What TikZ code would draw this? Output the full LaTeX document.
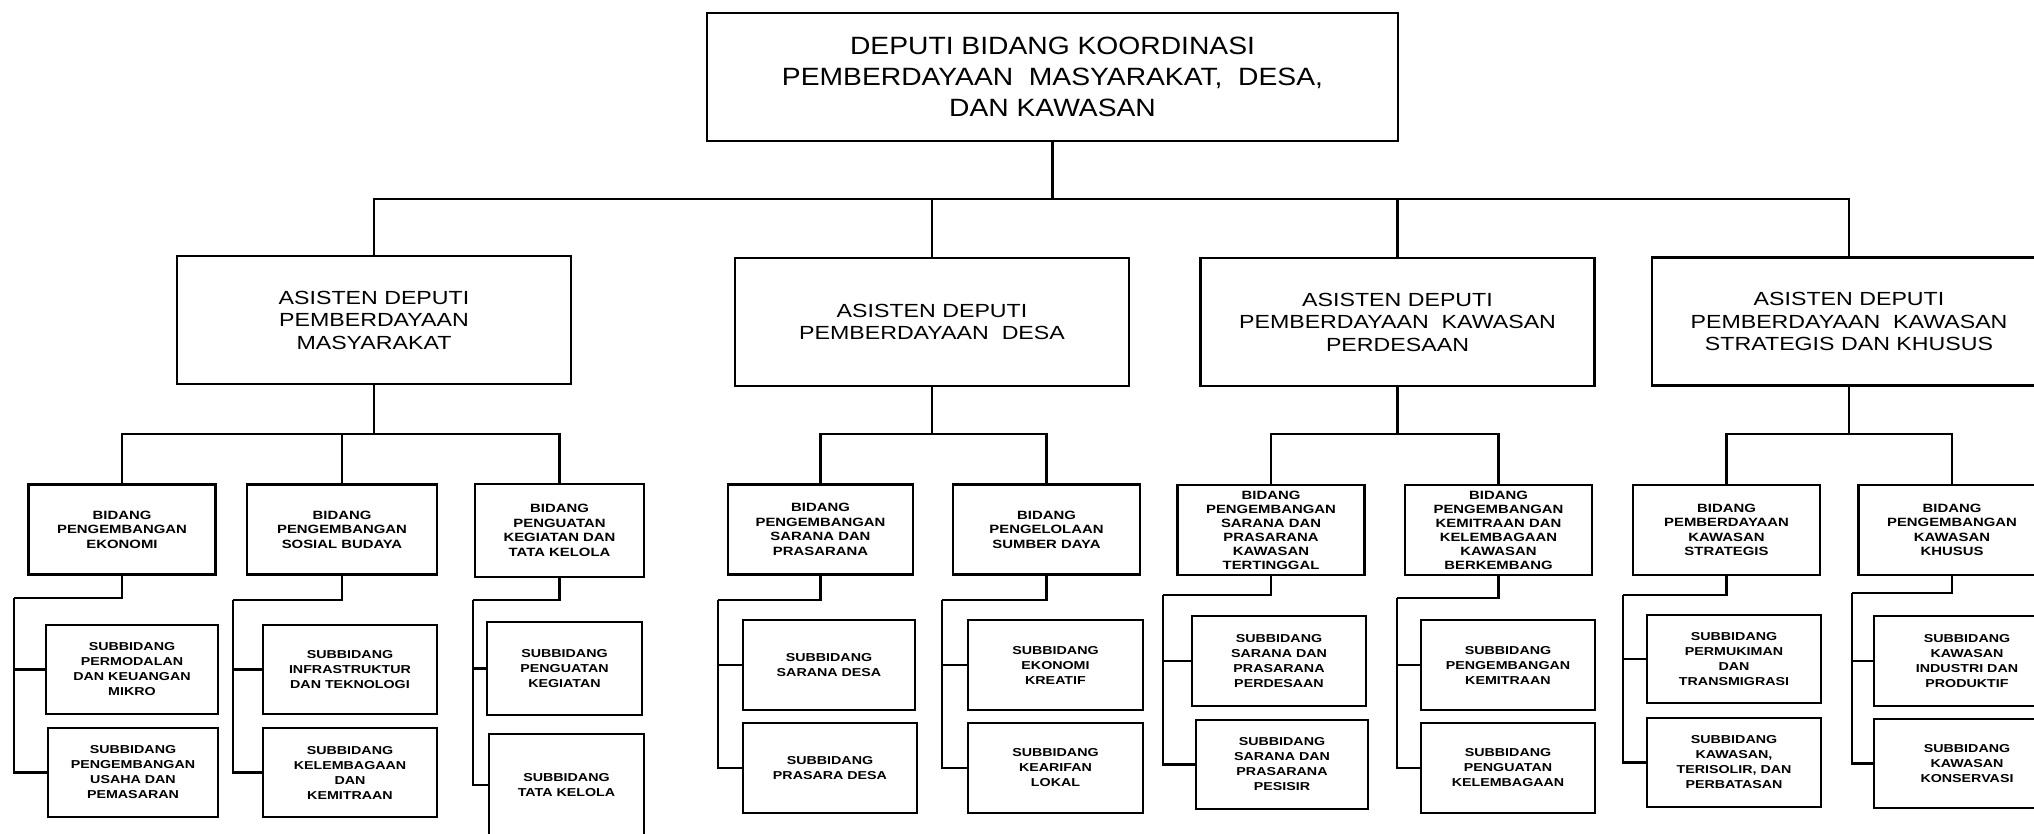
\documentclass[tikz,border=0pt]{standalone}
\usepackage{fontspec}
\setmainfont{Liberation Sans}
\newfontfamily\topfont{Liberation Sans}[FakeStretch=1.13]
\newfontfamily\asfont{Liberation Sans}[FakeStretch=1.22]
\newfontfamily\smallfont{Liberation Sans}[FakeStretch=1.24]
\usepackage{tikz}
\usetikzlibrary{positioning}
\tikzstyle{box} = [draw, line width=2.6pt, inner sep=0pt, align=center]
\tikzstyle{topbox} = [box, minimum width=691pt, minimum height=128pt, font=\topfont\fontsize{25}{31}\selectfont]
\tikzstyle{asbox} = [box, minimum width=394pt, minimum height=128pt, font=\asfont\fontsize{19}{22.5}\selectfont]
\tikzstyle{bidbox} = [box, minimum width=187pt, minimum height=90pt, font=\smallfont\bfseries\fontsize{12}{14.5}\selectfont]
\tikzstyle{subbox} = [box, minimum width=174pt, minimum height=90pt, font=\smallfont\bfseries\fontsize{11.5}{15}\selectfont]
\tikzstyle{line} = [draw, line width=2.6pt]

\begin{document}
\begin{tikzpicture}[x=1pt, y=-1pt]
			\useasboundingbox (0,0) rectangle (2034,834);
			\clip (0,0) rectangle (2034,834);

			\node [topbox] (deputi) at (1052.5,77) {DEPUTI BIDANG KOORDINASI\\PEMBERDAYAAN\ \ MASYARAKAT,\ \ DESA,\\DAN KAWASAN};

			\node [asbox] (as1) at (374,320) {ASISTEN DEPUTI\\PEMBERDAYAAN\\MASYARAKAT};
			\node [asbox] (as2) at (932,322) {ASISTEN DEPUTI\\PEMBERDAYAAN\ \ DESA};
			\node [asbox] (as3) at (1397.5,322) {ASISTEN DEPUTI\\PEMBERDAYAAN\ \ KAWASAN\\PERDESAAN};
			\node [asbox] (as4) at (1849,321.5) {ASISTEN DEPUTI\\PEMBERDAYAAN\ \ KAWASAN\\STRATEGIS DAN KHUSUS};

			\node [bidbox] (bd1) at (122,529.5) {BIDANG\\PENGEMBANGAN\\EKONOMI};
			\node [bidbox, minimum width=190pt] (bd2) at (342,529.5) {BIDANG\\PENGEMBANGAN\\SOSIAL BUDAYA};
			\node [bidbox, minimum width=169pt, minimum height=93pt] (bd3) at (559.5,530.5) {BIDANG\\PENGUATAN\\KEGIATAN DAN\\TATA KELOLA};
			\node [bidbox, minimum width=185pt] (bd4) at (820.5,529.5) {BIDANG\\PENGEMBANGAN\\SARANA DAN\\PRASARANA};
			\node [bidbox] (bd5) at (1046.5,529.5) {BIDANG\\PENGELOLAAN\\SUMBER DAYA};
			\node [bidbox, font=\smallfont\bfseries\fontsize{12}{14}\selectfont] (bd6) at (1271,530) {BIDANG\\PENGEMBANGAN\\SARANA DAN\\PRASARANA\\KAWASAN\\TERTINGGAL};
			\node [bidbox, font=\smallfont\bfseries\fontsize{12}{14}\selectfont] (bd7) at (1498.5,530) {BIDANG\\PENGEMBANGAN\\KEMITRAAN DAN\\KELEMBAGAAN\\KAWASAN\\BERKEMBANG};
			\node [bidbox] (bd8) at (1726.5,530) {BIDANG\\PEMBERDAYAAN\\KAWASAN\\STRATEGIS};
			\node [bidbox] (bd9) at (1952,530) {BIDANG\\PENGEMBANGAN\\KAWASAN\\KHUSUS};

			\node [subbox, minimum width=172pt, minimum height=89pt] (sb1a) at (132,669.5) {SUBBIDANG\\PERMODALAN\\DAN KEUANGAN\\MIKRO};
			\node [subbox, minimum width=170pt, minimum height=89pt] (sb1b) at (133,772.5) {SUBBIDANG\\PENGEMBANGAN\\USAHA DAN\\PEMASARAN};
			\node [subbox, minimum height=89pt] (sb2a) at (350,669.5) {SUBBIDANG\\INFRASTRUKTUR\\DAN TEKNOLOGI};
			\node [subbox, minimum height=89pt] (sb2b) at (350,772.5) {SUBBIDANG\\KELEMBAGAAN\\DAN\\KEMITRAAN};
			\node [subbox, minimum width=155pt, minimum height=93pt] (sb3a) at (564.5,668.5) {SUBBIDANG\\PENGUATAN\\KEGIATAN};
			\node [subbox, minimum width=155pt, minimum height=102pt] (sb3b) at (566.5,785) {SUBBIDANG\\TATA KELOLA};
			\node [subbox, minimum width=172pt] (sb4a) at (829,665) {SUBBIDANG\\SARANA DESA};
			\node [subbox] (sb4b) at (830,768) {SUBBIDANG\\PRASARA DESA};
			\node [subbox, minimum width=175pt] (sb5a) at (1055.5,665) {SUBBIDANG\\EKONOMI\\KREATIF};
			\node [subbox, minimum width=175pt] (sb5b) at (1055.5,768) {SUBBIDANG\\KEARIFAN\\LOKAL};
			\node [subbox] (sb6a) at (1279,661) {SUBBIDANG\\SARANA DAN\\PRASARANA\\PERDESAAN};
			\node [subbox, minimum width=172pt, minimum height=89pt] (sb6b) at (1282,764.5) {SUBBIDANG\\SARANA DAN\\PRASARANA\\PESISIR};
			\node [subbox] (sb7a) at (1508,665) {SUBBIDANG\\PENGEMBANGAN\\KEMITRAAN};
			\node [subbox] (sb7b) at (1508,768) {SUBBIDANG\\PENGUATAN\\KELEMBAGAAN};
			\node [subbox, minimum height=88pt] (sb8a) at (1734,659) {SUBBIDANG\\PERMUKIMAN\\DAN\\TRANSMIGRASI};
			\node [subbox, minimum height=89pt] (sb8b) at (1734,762.5) {SUBBIDANG\\KAWASAN,\\TERISOLIR, DAN\\PERBATASAN};
			\node [subbox, minimum width=186pt] (sb9a) at (1967,661) {SUBBIDANG\\KAWASAN\\INDUSTRI DAN\\PRODUKTIF};
			\node [subbox, minimum width=186pt, minimum height=89pt] (sb9b) at (1967,763.5) {SUBBIDANG\\KAWASAN\\KONSERVASI};

			\coordinate (j0) at (1052.5,199);
			\coordinate (j1) at (374,434);
			\coordinate (j2) at (932,434);
			\coordinate (j3) at (1397.5,434);
			\coordinate (j4) at (1849,434);
			\coordinate (k1) at (14,598);
			\coordinate (k2) at (233,600);
			\coordinate (k3) at (473,600);
			\coordinate (k4) at (718,600);
			\coordinate (k5) at (942,600);
			\coordinate (k6) at (1163,595);
			\coordinate (k7) at (1397,598);
			\coordinate (k8) at (1623,595);
			\coordinate (k9) at (1852,593);

			\path [line] (deputi) -- (j0);
			\path [line] (j0) -| (as1);
			\path [line] (j0) -| (as2);
			\path [line] (j0) -| (as3);
			\path [line] (j0) -| (as4);

			\path [line] (as1) -- (j1);
			\path [line] (j1) -| (bd1);
			\path [line] (j1) -| (bd2);
			\path [line] (j1) -| (bd3);
			\path [line] (as2) -- (j2);
			\path [line] (j2) -| (bd4);
			\path [line] (j2) -| (bd5);
			\path [line] (as3) -- (j3);
			\path [line] (j3) -| (bd6);
			\path [line] (j3) -| (bd7);
			\path [line] (as4) -- (j4);
			\path [line] (j4) -| (bd8);
			\path [line] (j4) -| (bd9);

			\path [line] (bd1) |- (k1);
			\path [line] (k1) |- (sb1a);
			\path [line] (k1) |- (sb1b);
			\path [line] (bd2) |- (k2);
			\path [line] (k2) |- (sb2a);
			\path [line] (k2) |- (sb2b);
			\path [line] (bd3) |- (k3);
			\path [line] (k3) |- (sb3a);
			\path [line] (k3) |- (sb3b);
			\path [line] (bd4) |- (k4);
			\path [line] (k4) |- (sb4a);
			\path [line] (k4) |- (sb4b);
			\path [line] (bd5) |- (k5);
			\path [line] (k5) |- (sb5a);
			\path [line] (k5) |- (sb5b);
			\path [line] (bd6) |- (k6);
			\path [line] (k6) |- (sb6a);
			\path [line] (k6) |- (sb6b);
			\path [line] (bd7) |- (k7);
			\path [line] (k7) |- (sb7a);
			\path [line] (k7) |- (sb7b);
			\path [line] (bd8) |- (k8);
			\path [line] (k8) |- (sb8a);
			\path [line] (k8) |- (sb8b);
			\path [line] (bd9) |- (k9);
			\path [line] (k9) |- (sb9a);
			\path [line] (k9) |- (sb9b);
		\end{tikzpicture}
\end{document}
